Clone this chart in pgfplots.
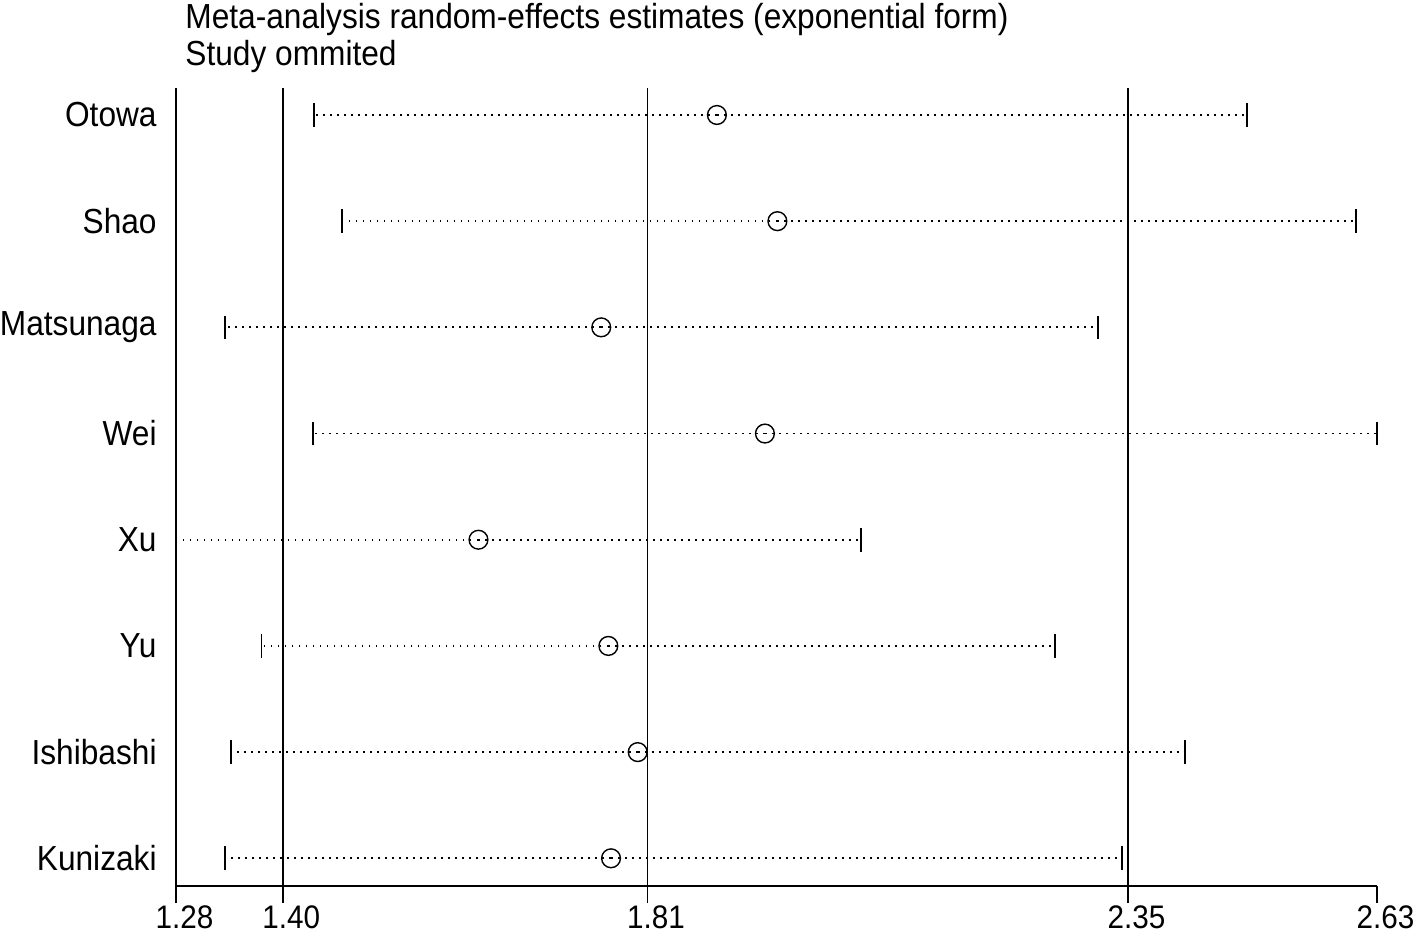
\documentclass[border=0pt]{standalone}
\usepackage{pgfplots}
\usepackage{pgfplotstable}
\pgfplotsset{compat=1.18}
\usepackage{fontspec}
\setmainfont{Liberation Sans}[FakeStretch=0.91]

\pgfplotstableread{
y lo est hi
8 1.435 1.888 2.484
7 1.467 1.956 2.606
6 1.335 1.758 2.316
5 1.434 1.942 2.630
4 1.280 1.620 2.050
3 1.376 1.766 2.268
2 1.342 1.799 2.414
1 1.335 1.769 2.343
}\data

\begin{document}
\begin{tikzpicture}
\begin{axis}[
  scale only axis,
  width=600.5pt, height=399pt,
  xmin=1.28, xmax=2.63, ymin=0.739, ymax=8.254,
  axis x line=bottom, axis y line=left,
  axis line style={-, black, line width=0.85pt},
  clip=false,
  font=\fontsize{17.4}{20}\selectfont,
  xtick={1.28,2.63}, xticklabels={1.28,2.63},
  extra x ticks={1.40,1.81,2.35}, extra x tick labels={1.40,1.81,2.35},
  extra x tick style={grid=major, major grid style={black, line width=0.85pt}},
  tick align=outside,
  major tick length=8.5pt,
  x tick style={black, line width=0.85pt},
  xticklabel style={inner sep=0pt, yshift=-1pt, xshift=4.25pt, font=\fontsize{16.3}{18}\selectfont},
  ytick={1,2,3,4,5,6,7,8},
  yticklabels={Kunizaki,Ishibashi,Yu,Xu,Wei,Matsunaga,Shao,Otowa},
  y tick style={draw=none},
  yticklabel style={inner sep=0pt, xshift=-1pt},
]
\addplot[black, only marks, mark=o, mark size=4.7pt, mark options={solid, line width=0.7pt},
  error bars/.cd, x dir=both, x explicit,
  error bar style={line width=0.9pt, dash pattern=on 0.9pt off 2.6pt},
  error mark=|, error mark options={solid, line width=0.9pt, mark size=5.9pt}]
  table[x=est, y=y,
        x error plus expr=\thisrow{hi}-\thisrow{est},
        x error minus expr=\thisrow{est}-\thisrow{lo}] {\data};
\end{axis}
\node[anchor=base west, inner sep=0pt, font=\fontsize{17.4}{20}\selectfont] at (4.5pt,428.5pt) {Meta-analysis random-effects estimates (exponential form)};
\node[anchor=base west, inner sep=0pt, font=\fontsize{17.4}{20}\selectfont] at (4.5pt,410pt) {Study ommited};
\pgfresetboundingbox
\path[use as bounding box] (-88pt,-24pt) rectangle (621pt,443pt);
\end{tikzpicture}
\end{document}
